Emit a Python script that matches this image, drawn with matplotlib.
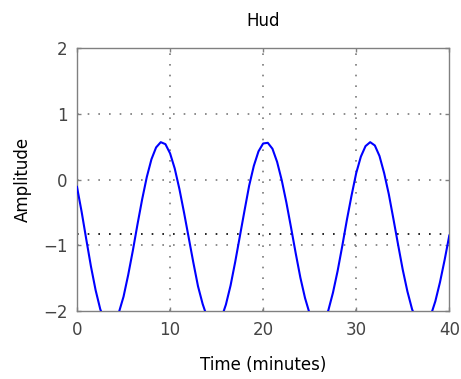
import matplotlib
matplotlib.use("Agg")
import matplotlib.pyplot as plt

# time in minutes, every half minute
time_min = [i * 0.5 for i in range(81)]
amplitude = [
    -0.11, -0.49, -0.91, -1.32, -1.68, -1.97, -2.16, -2.23,
    -2.18, -2.02, -1.78, -1.45, -1.08, -0.68, -0.30, 0.04,
    0.31, 0.49, 0.57, 0.54, 0.40, 0.17, -0.14, -0.50,
    -0.88, -1.26, -1.62, -1.89, -2.10, -2.21, -2.22, -2.11,
    -1.90, -1.61, -1.25, -0.86, -0.47, -0.09, 0.21, 0.43,
    0.55, 0.56, 0.47, 0.27, -0.01, -0.35, -0.73, -1.12,
    -1.49, -1.80, -2.04, -2.19, -2.23, -2.16, -1.99, -1.72,
    -1.39, -1.01, -0.61, -0.24, 0.10, 0.35, 0.51, 0.57,
    0.52, 0.36, 0.10, -0.22, -0.60, -0.99, -1.37, -1.70,
    -1.97, -2.15, -2.23, -2.20, -2.07, -1.85, -1.56, -1.22,
    -0.85,
]
mean_level = -0.83

xticks = [0, 10, 20, 30, 40]
yticks = [-2, -1, 0, 1, 2]

fig = plt.figure(figsize=(4.61, 3.79), dpi=100)
ax = fig.add_axes([0.167, 0.179, 0.8076, 0.694])

dots = (0, (1, 5.4))
for x in xticks[1:-1]:
    ax.axvline(x, color="#7a7a7a", lw=1.2, linestyle=dots, zorder=1)
for y in yticks[1:-1]:
    ax.axhline(y, color="#7a7a7a", lw=1.2, linestyle=dots, zorder=1)
ax.axhline(mean_level, color="black", lw=1.2, linestyle=dots, zorder=1)

ax.plot(time_min, amplitude, color="#0000ff", lw=1.5, zorder=3)

ax.set_xlim(0, 40)
ax.set_ylim(-2, 2)
ax.set_xticks(xticks)
ax.set_yticks(yticks)
ax.tick_params(direction="in", length=3, width=1, color="#808080",
               labelcolor="#444444", labelsize=12, top=True, right=True, pad=7)
for s in ax.spines.values():
    s.set_color("#808080")
    s.set_linewidth(1.0)

ax.set_title("Hud", fontsize=12, pad=16)
ax.set_xlabel("Time (minutes)", fontsize=12, labelpad=12)
ax.set_ylabel("Amplitude", fontsize=12, labelpad=8)

fig.savefig("out.png", dpi=100)
